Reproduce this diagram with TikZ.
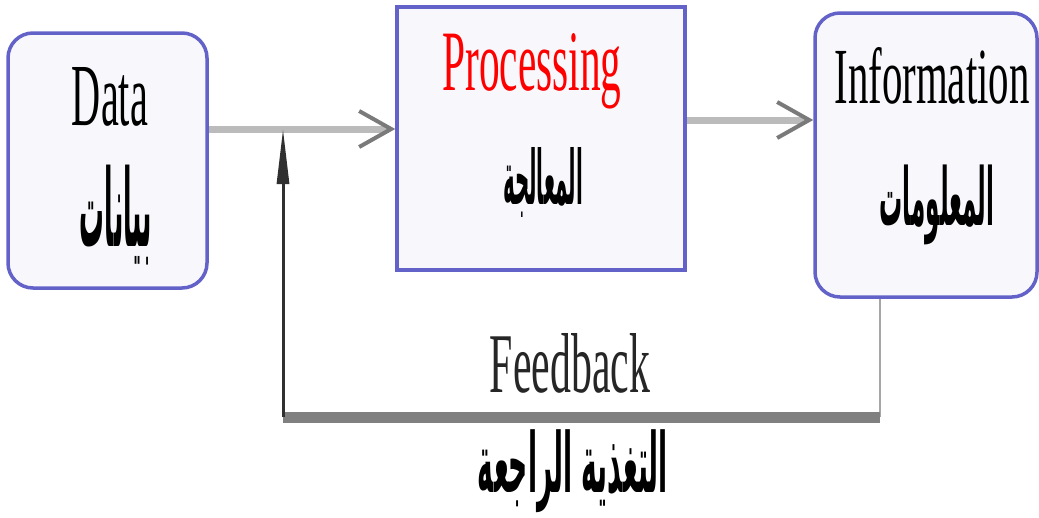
\documentclass[tikz,border=0pt]{standalone}
\usepackage{fontspec}
\usepackage{graphicx}
\setmainfont{Liberation Serif}
\newfontfamily\arabicfont[Script=Arabic]{DejaVu Sans}
\TeXXeTstate=1
\usetikzlibrary{arrows.meta}
\definecolor{boxblue}{HTML}{6262C8}
\definecolor{boxfill}{HTML}{F8F8FC}
\definecolor{lightline}{HTML}{BBBBBB}
\definecolor{barbgray}{HTML}{7A7A7A}
\definecolor{fbgray}{HTML}{808080}
\definecolor{darkline}{HTML}{303030}
\newcommand{\latbox}[3]{\resizebox{#1}{#2}{#3}}
\newcommand{\arbox}[3]{\resizebox*{#1}{#2}{\arabicfont\bfseries #3}}
\tikzset{
  boxbase/.style={draw=boxblue, line width=3.5pt, fill=boxfill, inner sep=0pt},
  roundbox/.style={boxbase, rounded corners=25pt},
  sharpbox/.style={boxbase},
  lbl/.style={anchor=base, inner sep=0pt},
  arlbl/.style={inner sep=0pt},
  garrow/.style={draw=lightline, line width=7pt,
    -{Straight Barb[length=32pt,width=36pt,line width=4pt,color=barbgray]}},
  thinfb/.style={draw=gray!70, line width=2pt},
  thickfb/.style={draw=fbgray, line width=11pt},
  uparrow/.style={draw=darkline, line width=3pt,
    -{Triangle[length=55pt,width=12pt]}}
}
\begin{document}
\begin{tikzpicture}[x=1pt,y=-1pt]
\useasboundingbox (0,0) rectangle (1039,517);
\node[roundbox, minimum width=199pt, minimum height=255pt] (Data) at (107.5,160.5) {};
\node[sharpbox, minimum width=288pt, minimum height=263pt] (Processing) at (541,138.5) {};
\node[roundbox, minimum width=222pt, minimum height=284pt] (Information) at (926,155) {};

\node[lbl] (tData) at (110,125) {\latbox{76pt}{58pt}{Data}};
\node[lbl, text=red] (tProc) at (532,90) {\latbox{179pt}{57pt}{Processing}};
\node[lbl] (tInfo) at (932,103) {\latbox{195pt}{56pt}{Information}};
\node[lbl, text=black!85] (tFeed) at (570,392) {\latbox{160pt}{59pt}{Feedback}};

\node[arlbl] (aData) at (116,215) {\arbox{72pt}{100pt}{\beginR بيانات\endR}};
\node[arlbl] (aProc) at (543,182) {\arbox{80pt}{70pt}{\beginR المعالجة\endR}};
\node[arlbl] (aInfo) at (937,205) {\arbox{115pt}{80pt}{\beginR المعلومات\endR}};
\node[arlbl] (aFeed) at (573,471) {\arbox{190pt}{83pt}{\beginR التغذية الراجعة\endR}};

\coordinate (j) at (283,129);
\coordinate (c1) at (880,417);
\coordinate (b1) at (283,417);

\draw[garrow] (Data.east |- j) -- (Processing.west |- j);
\draw[garrow] ([yshift=18.5pt]Processing.east) -- ([yshift=35pt]Information.west);
\draw[thinfb] ([xshift=-46pt]Information.south) -- (c1);
\draw[thickfb] (c1) -- (b1);
\draw[uparrow] (b1) -- (j);
\end{tikzpicture}
\end{document}
